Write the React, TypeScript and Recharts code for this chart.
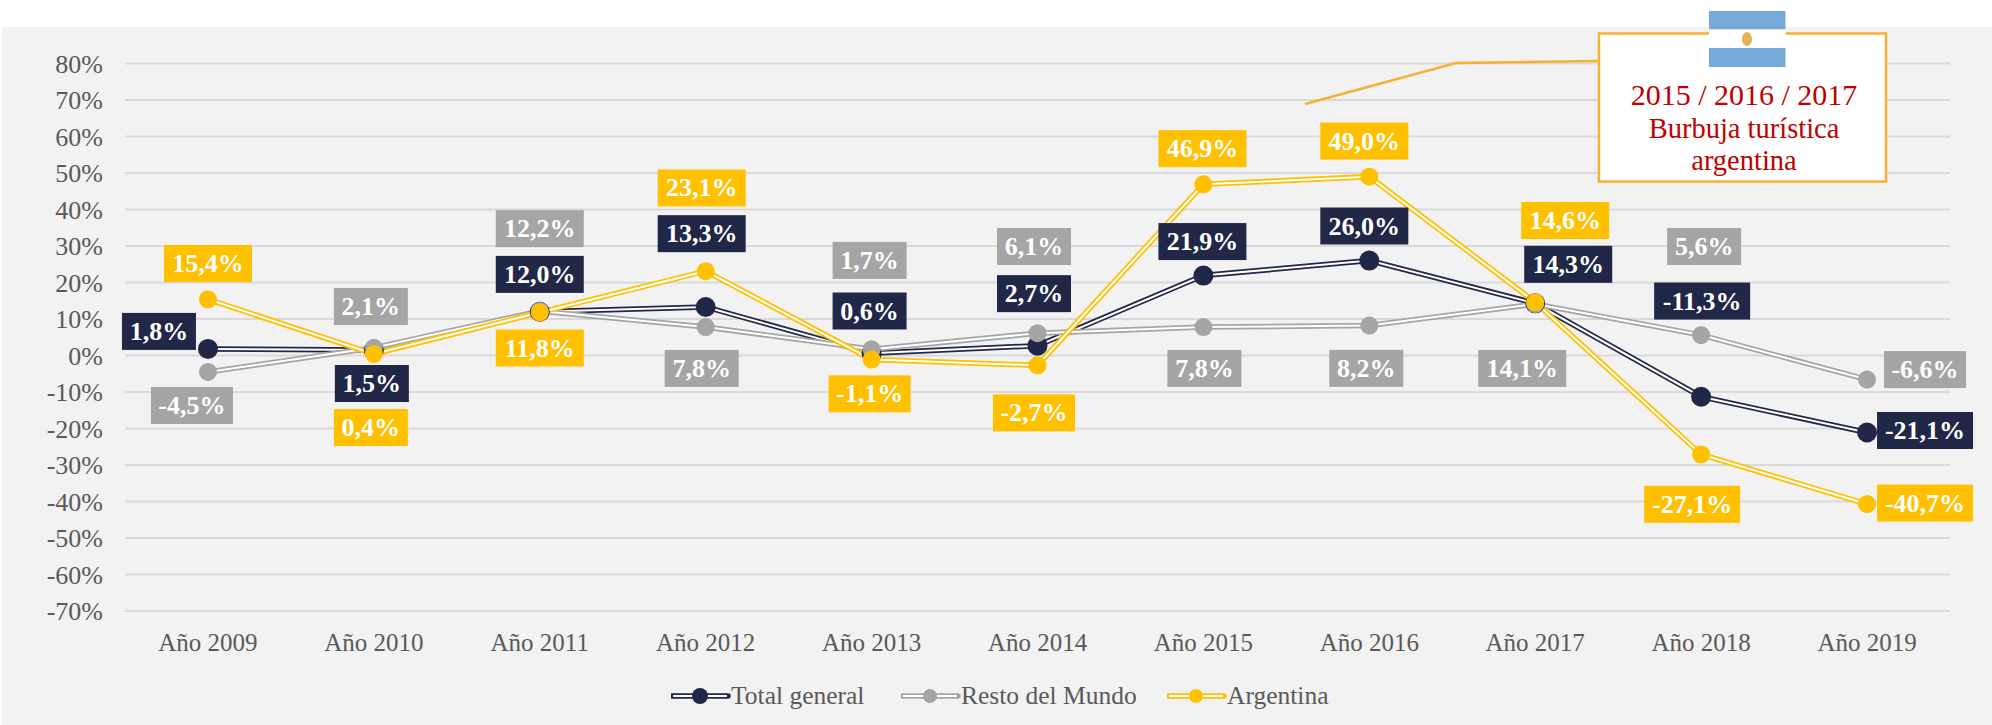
import { LineChart, Line, XAxis, YAxis, CartesianGrid, LabelList, Legend } from "recharts";

const categories = ["Año 2009", "Año 2010", "Año 2011", "Año 2012", "Año 2013", "Año 2014", "Año 2015", "Año 2016", "Año 2017", "Año 2018", "Año 2019"];
const totalGeneral = [1.8, 1.5, 12.0, 13.3, 0.6, 2.7, 21.9, 26.0, 14.3, -11.3, -21.1];
const restoDelMundo = [-4.5, 2.1, 12.2, 7.8, 1.7, 6.1, 7.8, 8.2, 14.1, 5.6, -6.6];
const argentina = [15.4, 0.4, 11.8, 23.1, -1.1, -2.7, 46.9, 49.0, 14.6, -27.1, -40.7];
const yTicks = [80, 70, 60, 50, 40, 30, 20, 10, 0, -10, -20, -30, -40, -50, -60, -70];

const chartData = categories.map((name, i) => ({
  name,
  total: totalGeneral[i],
  resto: restoDelMundo[i],
  arg: argentina[i],
}));

// where each value box sits relative to its point (dx, dy in px)
const totalOffsets = [[-49, -17.5], [-2, 33.5], [0, -37.3], [-4, -73.3], [-2, -42.3], [-3.5, -52], [-1, -34], [-5, -34.6], [33, -39], [1, -95.7], [58, -2]];
const restoOffsets = [[-16, 33.6], [-3, -41.3], [0, -82.3], [-4, 41.4], [-2, -88.9], [-3.5, -86.7], [1, 41.4], [-3, 42.8], [-13, 64.4], [3, -88.5], [58, -10]];
const argOffsets = [[0, -35.8], [-3, 73.5], [0, 35.6], [-4, -83.2], [-2, 34.3], [-3.5, 47.5], [-1, -35.7], [-5, -35.6], [30, -81.7], [-9, 49.9], [58, -1]];

const NAVY = "#212746";
const GRAY = "#a5a5a5";
const GOLD = "#ffc000";
const SERIF = '"Liberation Serif", serif';

const series = [
  { key: "total", name: "Total general", color: NAVY, r: 10, offsets: totalOffsets },
  { key: "resto", name: "Resto del Mundo", color: GRAY, r: 9, offsets: restoOffsets },
  { key: "arg", name: "Argentina", color: GOLD, r: 9, offsets: argOffsets },
];

const fmt = (v: number) => v.toFixed(1).replace(".", ",") + "%";

function boxWidth(text: string) {
  let w = 18;
  for (const c of text) {
    if (c === ",") w += 6;
    else if (c === "%") w += 22;
    else if (c === "-") w += 8;
    else w += 14;
  }
  return w;
}

function valueBox(color: string, offsets: number[][]) {
  return (props: any) => {
    const { x, y, value, index } = props;
    const [dx, dy] = offsets[index];
    const text = fmt(value);
    const w = boxWidth(text);
    const cx = x + dx;
    const cy = y + dy;
    return (
      <g key={index}>
        <rect x={cx - w / 2} y={cy - 18.5} width={w} height={37} fill={color} />
        <text x={cx} y={cy + 8.5} textAnchor="middle" fill="#fff" fontFamily={SERIF} fontWeight="bold" fontSize={26}>
          {text}
        </text>
      </g>
    );
  };
}

function LegendRow() {
  const starts = [671, 901, 1167];
  return (
    <div style={{ position: "relative", width: 1992, height: 30 }}>
      {series.map((s, i) => (
        <div key={s.key} style={{ position: "absolute", left: starts[i], top: 0, height: 30, display: "flex", alignItems: "center", whiteSpace: "nowrap" }}>
          <svg width={60} height={30}>
            <line x1={1} x2={57} y1={15} y2={15} stroke={s.color} strokeWidth={5.5} strokeLinecap="round" />
            <line x1={2} x2={56} y1={15} y2={15} stroke="#fff" strokeWidth={2} />
            <circle cx={29} cy={15} r={s.r - 2} fill={s.color} />
          </svg>
          <span style={{ fontFamily: SERIF, fontSize: 25.5, color: "#595959" }}>{s.name}</span>
        </div>
      ))}
    </div>
  );
}

function Callout() {
  return (
    <svg width={1992} height={725} style={{ position: "absolute", left: 0, top: 0, pointerEvents: "none" }}>
      <polyline points="1305,104 1456,63 1598,61" fill="none" stroke="#f4b133" strokeWidth={2.5} />
      <rect x={1599} y={33.5} width={287} height={148} fill="#fff" stroke="#f4b133" strokeWidth={2.5} />
      <rect x={1709} y={11} width={76.5} height={18.5} fill="#74a9d8" />
      <rect x={1709} y={29.5} width={76.5} height={18.5} fill="#fff" />
      <rect x={1709} y={48} width={76.5} height={19} fill="#74a9d8" />
      <ellipse cx={1747} cy={39} rx={5} ry={7} fill="#e6b35a" />
      <g fontFamily={SERIF} fill="#c00000" textAnchor="middle">
        <text x={1744} y={105} fontSize={30}>2015 / 2016 / 2017</text>
        <text x={1744} y={138} fontSize={28.5}>Burbuja turística</text>
        <text x={1744} y={170} fontSize={28.5}>argentina</text>
      </g>
    </svg>
  );
}

export default function App() {
  return (
    <div style={{ position: "absolute", left: 0, top: 0, width: 1992, height: 725, background: "#fff", overflow: "hidden" }}>
      <div style={{ position: "absolute", left: 2, top: 27, right: 0, bottom: 0, background: "#f2f2f2" }} />
      <LineChart
        width={1992}
        height={725}
        data={chartData}
        margin={{ top: 63.5, right: 42, left: 0, bottom: 24 }}
        style={{ position: "absolute", left: 0, top: 0 }}
      >
        <CartesianGrid vertical={false} stroke="#d9d9d9" strokeWidth={2} />
        <XAxis
          dataKey="name"
          scale="band"
          axisLine={false}
          tickLine={false}
          tickSize={0}
          tickMargin={22}
          height={60}
          interval={0}
          tick={{ fill: "#595959", fontSize: 25, fontFamily: SERIF }}
        />
        <YAxis
          width={125}
          domain={[-70, 80]}
          ticks={yTicks}
          interval={0}
          axisLine={false}
          tickLine={false}
          tickSize={0}
          tickMargin={22}
          tickFormatter={(v: number) => `${v}%`}
          tick={{ fill: "#595959", fontSize: 26, fontFamily: SERIF }}
        />
        {series.flatMap((s) => [
          <Line
            key={s.key + "-outer"}
            dataKey={s.key}
            stroke={s.color}
            strokeWidth={5.5}
            dot={false}
            activeDot={false}
            legendType="none"
            isAnimationActive={false}
          />,
          <Line
            key={s.key + "-inner"}
            dataKey={s.key}
            stroke="#ffffff"
            strokeWidth={2}
            dot={{ r: s.r, fill: s.color, stroke: "none" }}
            activeDot={false}
            legendType="none"
            isAnimationActive={false}
          />,
        ])}
        {series.map((s) => (
          <Line
            key={s.key + "-labels"}
            dataKey={s.key}
            stroke="none"
            dot={false}
            activeDot={false}
            legendType="none"
            isAnimationActive={false}
          >
            <LabelList dataKey={s.key} content={valueBox(s.color, s.offsets)} />
          </Line>
        ))}
        <Legend content={() => <LegendRow />} wrapperStyle={{ left: 0, top: 681, width: 1992 }} />
      </LineChart>
      <Callout />
    </div>
  );
}
